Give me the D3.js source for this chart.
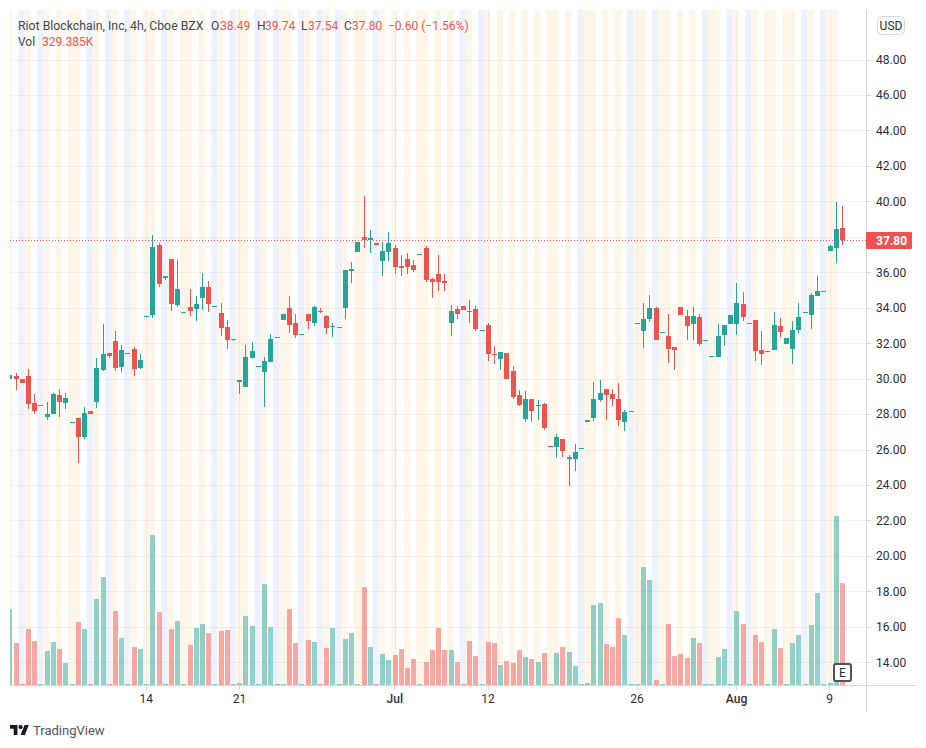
<!DOCTYPE html>
<html>
<head>
<meta charset="utf-8">
<script src="https://cdn.jsdelivr.net/npm/d3@7"></script>
<style>
  html, body { margin: 0; background: #fff; }
  svg { display: block; }
  text { font-family: Roboto, "Liberation Sans", sans-serif; }
  .tick text { font-size: 12px; fill: #2a2e39; }
</style>
</head>
<body>
<svg id="chart" width="926" height="748"></svg>
<script>
const opens = [
  29.97, 30.14, 29.97, 30.14, 28.61, 28.54, 27.82, 27.99, 29.07, 28.61,
  27.58, 27.77, 26.70, 28.16, 28.67, 30.48, 31.43, 32.11, 30.64, 31.47,
  31.66, 30.59, 33.56, 33.58, 37.53, 35.67, 36.74, 34.14, 33.73, 34.03,
  33.92, 34.54, 35.16, 34.07, 33.69, 32.90, 32.22, 29.80, 29.52, 31.15,
  30.74, 30.36, 30.93, 32.37, 33.30, 33.97, 33.13, 32.50, 33.64, 33.14,
  33.81, 33.53, 32.95, 32.94, 33.98, 36.07, 37.14, 37.99, 37.82, 37.65,
  36.63, 37.14, 37.37, 36.35, 36.75, 36.41, 37.01, 37.37, 35.62, 35.90,
  35.51, 33.14, 33.93, 34.10, 33.82, 33.93, 32.72, 33.02, 31.39, 31.11,
  31.44, 30.43, 29.07, 27.72, 28.85, 28.49, 28.57, 26.19, 26.14, 26.59,
  25.46, 25.46, 26.06, 27.55, 27.78, 28.79, 29.41, 29.13, 28.85, 27.55,
  28.15, 33.12, 32.68, 33.36, 33.98, 32.61, 32.40, 31.78, 34.04, 33.53,
  33.08, 33.47, 32.20, 31.26, 31.22, 32.46, 33.08, 33.08, 34.21, 33.12,
  33.31, 31.61, 31.56, 31.61, 32.97, 31.95, 31.67, 32.74, 33.74, 33.59,
  34.66, 34.92, 37.20, 37.37, 38.49
];
const closes = [
  30.19, 29.97, 29.74, 28.56, 28.16, 28.54, 27.99, 29.12, 28.67, 28.90,
  27.58, 26.70, 28.05, 27.99, 30.59, 31.38, 31.27, 30.59, 31.60, 31.47,
  30.53, 31.04, 33.56, 37.41, 35.33, 35.78, 34.20, 35.04, 33.73, 33.80,
  34.20, 35.16, 34.20, 34.07, 32.84, 32.17, 32.18, 29.91, 31.21, 31.55,
  30.74, 30.98, 32.22, 32.37, 33.63, 33.01, 32.45, 32.50, 33.25, 34.04,
  33.76, 32.85, 32.95, 32.94, 36.13, 36.18, 37.71, 37.82, 37.93, 37.54,
  37.20, 37.65, 36.30, 36.24, 36.30, 36.13, 37.01, 35.56, 35.45, 35.45,
  35.39, 33.81, 33.64, 33.87, 33.77, 32.80, 32.72, 31.39, 31.33, 31.50,
  29.98, 28.96, 28.51, 28.85, 28.17, 28.49, 27.21, 26.17, 26.70, 25.91,
  25.58, 25.86, 26.06, 27.66, 28.85, 29.19, 29.07, 28.85, 27.66, 28.11,
  28.15, 33.12, 33.36, 33.98, 32.18, 32.61, 31.67, 31.61, 33.59, 32.97,
  33.53, 31.95, 32.20, 31.26, 32.40, 33.02, 33.59, 34.26, 33.47, 33.12,
  31.56, 31.39, 31.56, 33.02, 32.63, 32.29, 32.74, 33.47, 33.74, 34.72,
  34.94, 34.92, 37.48, 38.44, 37.80
];
const highs = [
  30.19, 30.29, 29.97, 30.53, 29.12, 28.54, 28.67, 29.18, 29.40, 29.18,
  27.58, 27.77, 28.39, 28.16, 31.15, 33.07, 31.43, 32.68, 31.89, 31.47,
  31.77, 31.38, 33.56, 38.09, 37.64, 35.78, 36.74, 36.68, 33.73, 35.04,
  34.65, 35.95, 35.50, 34.07, 34.25, 33.30, 32.22, 29.91, 31.89, 32.05,
  30.74, 31.21, 32.51, 32.37, 33.63, 34.65, 33.63, 32.50, 33.64, 34.10,
  33.98, 33.59, 33.14, 32.94, 36.13, 36.58, 37.71, 40.30, 38.38, 37.65,
  37.71, 38.27, 37.54, 36.97, 37.09, 36.69, 37.01, 37.48, 35.68, 36.97,
  35.90, 34.15, 34.10, 34.10, 34.43, 34.10, 32.72, 33.14, 31.84, 31.50,
  31.44, 30.71, 29.36, 29.30, 28.85, 28.79, 28.62, 26.19, 26.87, 26.59,
  25.69, 26.31, 26.06, 27.66, 29.81, 29.92, 29.41, 29.41, 29.75, 28.23,
  28.15, 33.12, 34.26, 34.71, 34.04, 32.61, 33.64, 31.78, 34.04, 33.87,
  34.04, 33.64, 32.20, 31.26, 33.08, 33.02, 33.59, 35.39, 34.89, 33.12,
  33.31, 32.69, 31.56, 33.76, 33.42, 32.29, 33.25, 34.26, 33.74, 34.83,
  35.79, 34.92, 37.54, 39.96, 39.74
];
const lows = [
  29.97, 29.35, 29.74, 28.28, 27.99, 28.54, 27.65, 27.99, 27.82, 28.28,
  27.58, 25.23, 26.58, 27.99, 28.33, 30.42, 31.15, 30.42, 30.36, 31.47,
  30.14, 30.53, 33.56, 33.41, 35.16, 35.55, 33.80, 34.03, 33.73, 33.52,
  33.24, 33.86, 33.75, 34.07, 32.39, 31.66, 32.11, 29.12, 29.52, 31.15,
  30.74, 28.39, 30.93, 32.37, 33.30, 32.56, 32.28, 32.50, 32.80, 32.97,
  33.70, 32.52, 32.35, 32.94, 33.36, 35.39, 37.14, 37.37, 37.09, 37.54,
  35.79, 36.63, 35.90, 35.79, 35.90, 36.01, 37.01, 35.45, 34.55, 34.94,
  34.94, 32.41, 33.36, 33.87, 33.14, 32.69, 32.72, 30.99, 30.82, 30.49,
  29.98, 28.85, 28.45, 27.55, 27.55, 27.66, 27.10, 26.17, 25.52, 25.58,
  23.94, 24.79, 26.06, 27.55, 27.61, 28.68, 27.66, 28.45, 27.32, 27.04,
  28.15, 33.12, 31.72, 33.19, 32.18, 32.61, 30.88, 30.48, 33.59, 32.18,
  32.18, 31.84, 32.20, 31.26, 31.22, 31.84, 33.08, 32.46, 33.25, 33.12,
  30.99, 30.77, 31.56, 31.61, 32.35, 31.95, 30.82, 32.57, 33.74, 32.80,
  34.66, 34.92, 37.20, 36.52, 37.54
];
// volume in thousands
const volumes = [
  245, 136, 3, 181, 142, 3, 110, 139, 116, 71,
  3, 203, 181, 3, 278, 349, 3, 239, 152, 3,
  123, 116, 3, 484, 236, 3, 181, 207, 3, 129,
  184, 197, 168, 3, 174, 178, 3, 6, 223, 191,
  3, 326, 187, 3, 3, 245, 136, 3, 145, 139,
  3, 119, 184, 3, 149, 168, 3, 316, 123, 3,
  100, 81, 97, 116, 55, 84, 3, 74, 113, 184,
  113, 113, 74, 3, 142, 94, 3, 139, 136, 65,
  78, 71, 113, 90, 84, 74, 103, 3, 103, 123,
  107, 61, 3, 6, 258, 265, 132, 123, 216, 161,
  3, 3, 381, 339, 16, 3, 197, 94, 100, 87,
  152, 136, 3, 3, 90, 116, 3, 239, 197, 3,
  161, 139, 3, 181, 119, 3, 136, 161, 3, 194,
  297, 3, 6, 546, 329.385
];

// session background, by bar index
const preMarketBars = [
  0, 3, 6, 8, 10, 11, 14, 17, 20, 22, 23, 26, 28, 29, 31, 34, 37, 38, 41, 44, 45,
  48, 51, 54, 56, 57, 60, 62, 64, 66, 67, 69, 71, 74, 77, 79, 81, 83, 85, 87, 88,
  90, 93, 94, 96, 98, 101, 102, 105, 106, 108, 110, 113, 114, 117, 120, 122, 123,
  125, 126, 129, 132, 133
];
const postMarketBars = [
  2, 5, 13, 16, 19, 25, 33, 36, 40, 43, 47, 50, 53, 59, 73, 76, 92, 100, 104, 112,
  116, 119, 128, 131
];

const dateTickBars = [22, 37, 62, 77, 101, 117, 132];
const dateTickLabels = ["14", "21", "Jul", "12", "26", "Aug", "9"];
const priceTicks = [48, 46, 44, 42, 40, 38, 36, 34, 32, 30, 28, 26, 24, 22, 20, 18, 16, 14];
const lastPrice = 37.80;
const lastVolume = 329.385;

const left = 10, top_ = 10, right = 866, bottom = 685;
const upColor = "#26a69a", downColor = "#ef5350";
const bars = opens.map((o, i) => ({ i, o, c: closes[i], h: highs[i], l: lows[i], v: volumes[i] }));

const svg = d3.select("#chart");

const x = d3.scaleLinear().domain([0, 134]).range([9.9, 842.45]);
const y = d3.scaleLinear().domain([48, 14]).range([59.5, 662.3]);
const yVol = d3.scaleLinear().domain([0, lastVolume]).range([bottom, 583]);
const step = x(1) - x(0);
const colorOf = d => (d.c >= d.o ? upColor : downColor);

svg.append("clipPath").attr("id", "plot")
  .append("rect")
  .attr("x", left).attr("y", top_)
  .attr("width", right - left).attr("height", bottom - top_);

const plot = svg.append("g").attr("clip-path", "url(#plot)");

// session stripes
function stripes(list, color) {
  plot.append("g").selectAll("rect").data(list).enter().append("rect")
    .attr("x", d => x(d) - 0.9 - step / 2)
    .attr("y", top_)
    .attr("width", step)
    .attr("height", bottom - top_)
    .attr("fill", color);
}
stripes(preMarketBars, "#fff6ea");
stripes(postMarketBars, "#eef2ff");

// grid
plot.append("g").selectAll("line").data(priceTicks).enter().append("line")
  .attr("x1", left).attr("x2", right)
  .attr("y1", d => Math.round(y(d)) + 0.5).attr("y2", d => Math.round(y(d)) + 0.5)
  .attr("stroke", "#2a2e39").attr("stroke-opacity", 0.06);
plot.append("g").selectAll("line").data(dateTickBars).enter().append("line")
  .attr("x1", d => Math.floor(x(d)) + 0.5).attr("x2", d => Math.floor(x(d)) + 0.5)
  .attr("y1", top_).attr("y2", bottom)
  .attr("stroke", "#2a2e39").attr("stroke-opacity", 0.06);

// volume
plot.append("g").attr("shape-rendering", "crispEdges")
  .selectAll("rect").data(bars).enter().append("rect")
  .attr("x", d => Math.floor(x(d.i)) - 2)
  .attr("y", d => Math.min(yVol(d.v), bottom - 1))
  .attr("width", 5)
  .attr("height", d => Math.max(bottom - yVol(d.v), 1))
  .attr("fill", colorOf)
  .attr("fill-opacity", 0.5);

// last price line
plot.append("line")
  .attr("x1", left).attr("x2", right)
  .attr("y1", Math.round(y(lastPrice)) + 0.5).attr("y2", Math.round(y(lastPrice)) + 0.5)
  .attr("stroke", downColor)
  .attr("stroke-dasharray", "1,2");

// candles
const candles = plot.append("g").attr("shape-rendering", "crispEdges")
  .selectAll("g").data(bars).enter().append("g");
candles.append("rect")
  .attr("x", d => Math.floor(x(d.i)))
  .attr("y", d => y(d.h))
  .attr("width", 1)
  .attr("height", d => y(d.l) - y(d.h))
  .attr("fill", colorOf);
candles.append("rect")
  .attr("x", d => Math.floor(x(d.i)) - 2)
  .attr("y", d => y(Math.max(d.o, d.c)))
  .attr("width", 5)
  .attr("height", d => Math.max(Math.abs(y(d.o) - y(d.c)), 1))
  .attr("fill", colorOf);

// axes: the 38.00 label sits under the last price tag, so it gets no tick
const yAxis = d3.axisRight(y).tickValues(priceTicks.filter(d => d !== 38))
  .tickFormat(d3.format(".2f")).tickSize(5).tickPadding(5);
const yAxisG = svg.append("g").attr("transform", `translate(${right},0)`).call(yAxis);
yAxisG.select(".domain").remove();
yAxisG.selectAll("line").attr("stroke", "#d6d6d6").attr("shape-rendering", "crispEdges");
yAxisG.selectAll("text").attr("dy", "0.32em");

const xAxis = d3.axisBottom(x).tickValues(dateTickBars)
  .tickFormat((d, i) => dateTickLabels[i]).tickSize(5).tickPadding(4).offset(-0.3);
const xAxisG = svg.append("g").attr("transform", `translate(0,${bottom})`).call(xAxis);
xAxisG.select(".domain").remove();
xAxisG.selectAll("line").attr("stroke", "#d6d6d6").attr("shape-rendering", "crispEdges");
xAxisG.selectAll("text").attr("font-weight", (d, i) => (isNaN(+dateTickLabels[i]) ? 500 : 400));

svg.append("line").attr("x1", right + 0.5).attr("x2", right + 0.5)
  .attr("y1", top_).attr("y2", 712).attr("stroke", "#d6d6d6");
svg.append("line").attr("x1", left).attr("x2", 916)
  .attr("y1", bottom + 0.5).attr("y2", bottom + 0.5).attr("stroke", "#d6d6d6");

// last price label
svg.append("rect")
  .attr("x", right).attr("y", Math.round(y(lastPrice)) - 8)
  .attr("width", 46).attr("height", 17).attr("rx", 1)
  .attr("fill", downColor);
svg.append("text")
  .attr("x", 876).attr("y", Math.round(y(lastPrice)) + 4.5)
  .attr("font-size", 12).attr("font-weight", 700).attr("fill", "#fff")
  .text(d3.format(".2f")(lastPrice));

// USD box
svg.append("rect")
  .attr("x", 877.5).attr("y", 16.5).attr("width", 27).attr("height", 18).attr("rx", 4)
  .attr("fill", "#fff").attr("stroke", "#d6d8e0");
svg.append("text")
  .attr("x", 891).attr("y", 30).attr("text-anchor", "middle")
  .attr("font-size", 12).attr("fill", "#2a2e39").text("USD");

// E badge
svg.append("rect")
  .attr("x", 834).attr("y", 664).attr("width", 17).attr("height", 17).attr("rx", 2)
  .attr("fill", "#fff").attr("stroke", "#50535e").attr("stroke-width", 2);
svg.append("text")
  .attr("x", 842.5).attr("y", 677).attr("text-anchor", "middle")
  .attr("font-size", 12).attr("fill", "#2a2e39").text("E");

// legend
const titleParts = [
  ["Riot Blockchain, Inc, 4h, Cboe BZX", 18, "#434651", 12.3],
  ["O", 211, "#434651", 12], ["38.49", 220, downColor, 12],
  ["H", 257, "#434651", 12], ["39.74", 265, downColor, 12],
  ["L", 301, "#434651", 12], ["37.54", 308, downColor, 12],
  ["C", 344, "#434651", 12], ["37.80", 352, downColor, 12],
  ["\u22120.60 (\u22121.56%)", 388, downColor, 12]
];
svg.append("g").selectAll("text").data(titleParts).enter().append("text")
  .attr("x", d => d[1]).attr("y", 29.5)
  .attr("font-size", d => d[3]).attr("fill", d => d[2])
  .text(d => d[0]);
svg.append("text").attr("x", 18).attr("y", 46)
  .attr("font-size", 12).attr("fill", "#434651").text("Vol");
svg.append("text").attr("x", 42).attr("y", 46)
  .attr("font-size", 12).attr("fill", downColor).text("329.385K");

// TradingView mark
const mark = svg.append("g").attr("transform", "translate(10,725) scale(0.53)").attr("fill", "#131722");
mark.append("path").attr("d", "M14 19H7V7H0V0h14v19zM28 19h-8l7.5-19h8L28 19z");
mark.append("circle").attr("cx", 20).attr("cy", 4).attr("r", 4);
svg.append("text").attr("x", 33).attr("y", 735)
  .attr("font-size", 13).attr("fill", "#50535e").text("TradingView");
</script>
</body>
</html>
